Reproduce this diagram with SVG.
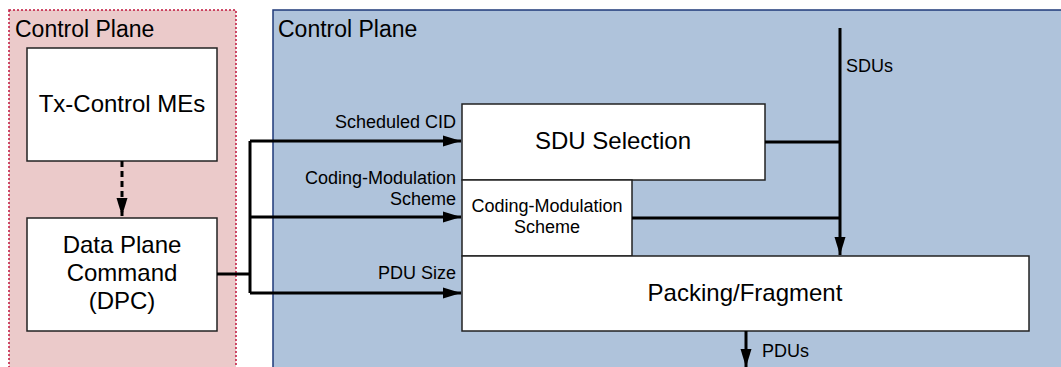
<svg xmlns="http://www.w3.org/2000/svg" width="1061" height="367" viewBox="0 0 1061 367">
<style>
text{font-family:"Liberation Sans",Arial,sans-serif;fill:#000}
.box{fill:#fff;stroke:#222;stroke-width:1.5}
.big{font-size:24px}
.title{font-size:23px}
.lbl{font-size:18px}
.con{fill:none;stroke:#000;stroke-width:3}
</style>
<defs>
<marker id="ah" markerWidth="18" markerHeight="12" refX="18" refY="6" orient="auto" markerUnits="userSpaceOnUse">
<path d="M0,0.5 L18,6 L0,11.5 Z" fill="#000"/>
</marker>
</defs>
<g id="cp-left">
<rect x="9" y="10" width="227" height="380" fill="#ebcaca" stroke="#c0143c" stroke-width="1.5" stroke-dasharray="2,2"/>
<text class="title" x="15" y="37">Control Plane</text>
</g>
<g id="cp-right">
<rect x="273" y="10" width="800" height="380" fill="#afc3db" stroke="#1f3a7a" stroke-width="1.5"/>
<text class="title" x="278" y="37">Control Plane</text>
</g>
<g id="tx-control">
<rect class="box" x="27" y="48" width="190" height="113"/>
<text class="big" x="122" y="112" text-anchor="middle">Tx-Control MEs</text>
</g>
<g id="dpc">
<rect class="box" x="27" y="218" width="190" height="113"/>
<text class="big" x="122" y="253" text-anchor="middle">Data Plane</text>
<text class="big" x="122" y="281" text-anchor="middle">Command</text>
<text class="big" x="122" y="309" text-anchor="middle">(DPC)</text>
</g>
<g id="sdu-selection">
<rect class="box" x="462" y="104" width="303" height="76"/>
<text class="big" x="613" y="149" text-anchor="middle">SDU Selection</text>
</g>
<g id="cms">
<rect class="box" x="462" y="180" width="170" height="76"/>
<text class="lbl" x="547" y="212" text-anchor="middle">Coding-Modulation</text>
<text class="lbl" x="547" y="233" text-anchor="middle">Scheme</text>
</g>
<g id="packing">
<rect class="box" x="462" y="256" width="567" height="75"/>
<text class="big" x="745" y="301" text-anchor="middle">Packing/Fragment</text>
</g>
<g id="connectors">
<path class="con" d="M122,161 V216" stroke-dasharray="6,4" marker-end="url(#ah)"/>
<path class="con" d="M217,274 H250"/>
<path class="con" d="M250,141 V293"/>
<path class="con" d="M250,141 H461" marker-end="url(#ah)"/>
<path class="con" d="M250,217 H461" marker-end="url(#ah)"/>
<path class="con" d="M250,293 H461" marker-end="url(#ah)"/>
<path class="con" d="M840,28 V255" marker-end="url(#ah)"/>
<path class="con" d="M765,142 H840"/>
<path class="con" d="M632,218 H840"/>
<path class="con" d="M746,331 V367" marker-end="url(#ah)"/>
<text class="lbl" x="456" y="128" text-anchor="end">Scheduled CID</text>
<text class="lbl" x="456" y="184" text-anchor="end">Coding-Modulation</text>
<text class="lbl" x="456" y="205" text-anchor="end">Scheme</text>
<text class="lbl" x="456" y="279" text-anchor="end">PDU Size</text>
<text class="lbl" x="846" y="72">SDUs</text>
<text class="lbl" x="762" y="357">PDUs</text>
</g>
</svg>
